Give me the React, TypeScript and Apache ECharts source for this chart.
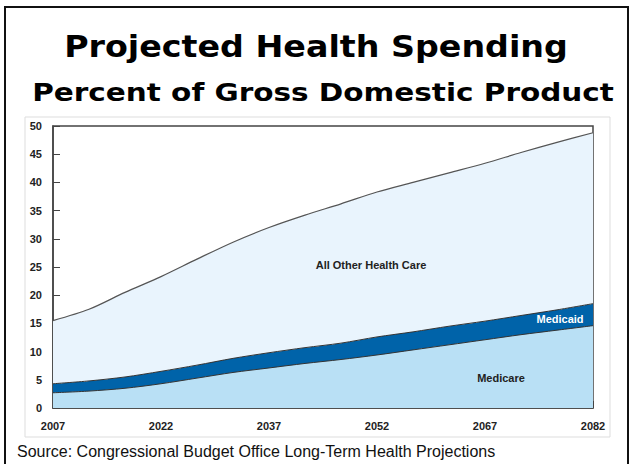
import React, { useEffect, useRef } from "react";
import * as echarts from "echarts";

const years = ["2007","2012","2017","2022","2027","2032","2037","2042","2047","2052","2057","2062","2067","2072","2077","2082"];
const medicare = [2.7, 3.0, 3.5, 4.3, 5.3, 6.3, 7.1, 7.9, 8.6, 9.4, 10.3, 11.2, 12.1, 13.0, 13.8, 14.6];
const medicaid = [1.6, 1.8, 2.0, 2.2, 2.3, 2.5, 2.7, 2.8, 2.9, 3.2, 3.2, 3.3, 3.3, 3.4, 3.6, 3.9];
const allOther = [11.2, 12.7, 15.0, 16.8, 18.8, 20.6, 22.2, 23.5, 24.7, 25.7, 26.5, 27.2, 28.0, 28.9, 29.7, 30.3];

const titleText = "Projected Health Spending";
const subtitleText = "Percent of Gross Domestic Product";
const sourceText = "Source: Congressional Budget Office Long-Term Health Projections";

export default function App() {
  const ref = useRef<HTMLDivElement>(null);
  useEffect(() => {
    if (!ref.current) return;
    const chart = echarts.init(ref.current, undefined, { renderer: "svg" });
    const lab = { fontFamily: "Liberation Sans", fontWeight: "bold" as const, fontSize: 11, color: "#222" };
    chart.setOption({
      animation: false,
      backgroundColor: "#fff",
      grid: { left: 53, right: 40, top: 126, bottom: 56, show: true, borderColor: "#444", borderWidth: 1.5, backgroundColor: "transparent" },
      xAxis: {
        type: "category",
        data: years,
        boundaryGap: false,
        axisLine: { show: true, lineStyle: { color: "#444", width: 1.5 } },
        axisTick: { show: true, inside: true, interval: 2, length: 7, lineStyle: { color: "#444", width: 1 } },
        axisLabel: { ...lab, interval: 2, margin: 12 },
        splitLine: { show: false },
      },
      yAxis: {
        type: "value",
        min: 0,
        max: 50,
        interval: 5,
        axisLine: { show: true, lineStyle: { color: "#444", width: 1.5 } },
        axisTick: { show: true, inside: true, length: 7, lineStyle: { color: "#444", width: 1 } },
        axisLabel: { ...lab, margin: 11 },
        splitLine: { show: false },
      },
      series: [
        {
          name: "Medicare", type: "line", stack: "t", data: medicare, smooth: 0.3, showSymbol: false,
          lineStyle: { color: "#333", width: 1 }, areaStyle: { color: "#b9e0f5", opacity: 1 },
        },
        {
          name: "Medicaid", type: "line", stack: "t", data: medicaid, smooth: 0.3, showSymbol: false,
          lineStyle: { color: "#333", width: 1 }, areaStyle: { color: "#0063a9", opacity: 1 },
        },
        {
          name: "All Other Health Care", type: "line", stack: "t", data: allOther, smooth: 0.3, showSymbol: false,
          lineStyle: { color: "#555", width: 1.2 }, areaStyle: { color: "#e9f4fd", opacity: 1 },
        },
      ],
      graphic: [
        { type: "rect", shape: { x: 5, y: 7, width: 623, height: 480 }, style: { fill: "none", stroke: "#111", lineWidth: 2 }, z: 100 },
        { type: "rect", shape: { x: 25, y: 117, width: 585, height: 320 }, style: { fill: "none", stroke: "#ddd", lineWidth: 1 }, z: 0 },
        { type: "text", x: 316, y: 47, scaleX: 1.11, style: { text: titleText, fontFamily: "DejaVu Sans", fontWeight: "bold", fontSize: 30, fill: "#000", align: "center", verticalAlign: "middle" }, z: 100 },
        { type: "text", x: 323, y: 92, scaleX: 1.18, style: { text: subtitleText, fontFamily: "DejaVu Sans", fontWeight: "bold", fontSize: 25, fill: "#000", align: "center", verticalAlign: "middle" }, z: 100 },
        { type: "text", x: 371, y: 265, style: { text: "All Other Health Care", fontFamily: "Liberation Sans", fontWeight: "bold", fontSize: 11, fill: "#222", align: "center", verticalAlign: "middle" }, z: 100 },
        { type: "text", x: 560, y: 319, style: { text: "Medicaid", fontFamily: "Liberation Sans", fontWeight: "bold", fontSize: 11, fill: "#fff", align: "center", verticalAlign: "middle" }, z: 100 },
        { type: "text", x: 501, y: 378, style: { text: "Medicare", fontFamily: "Liberation Sans", fontWeight: "bold", fontSize: 11, fill: "#222", align: "center", verticalAlign: "middle" }, z: 100 },
        { type: "text", x: 17, y: 451, style: { text: sourceText, fontFamily: "Liberation Sans", fontSize: 16, fill: "#111", align: "left", verticalAlign: "middle" }, z: 100 },
      ],
    });
    return () => chart.dispose();
  }, []);
  return <div ref={ref} style={{ position: "absolute", left: 0, top: 0, width: 633, height: 464 }} />;
}
